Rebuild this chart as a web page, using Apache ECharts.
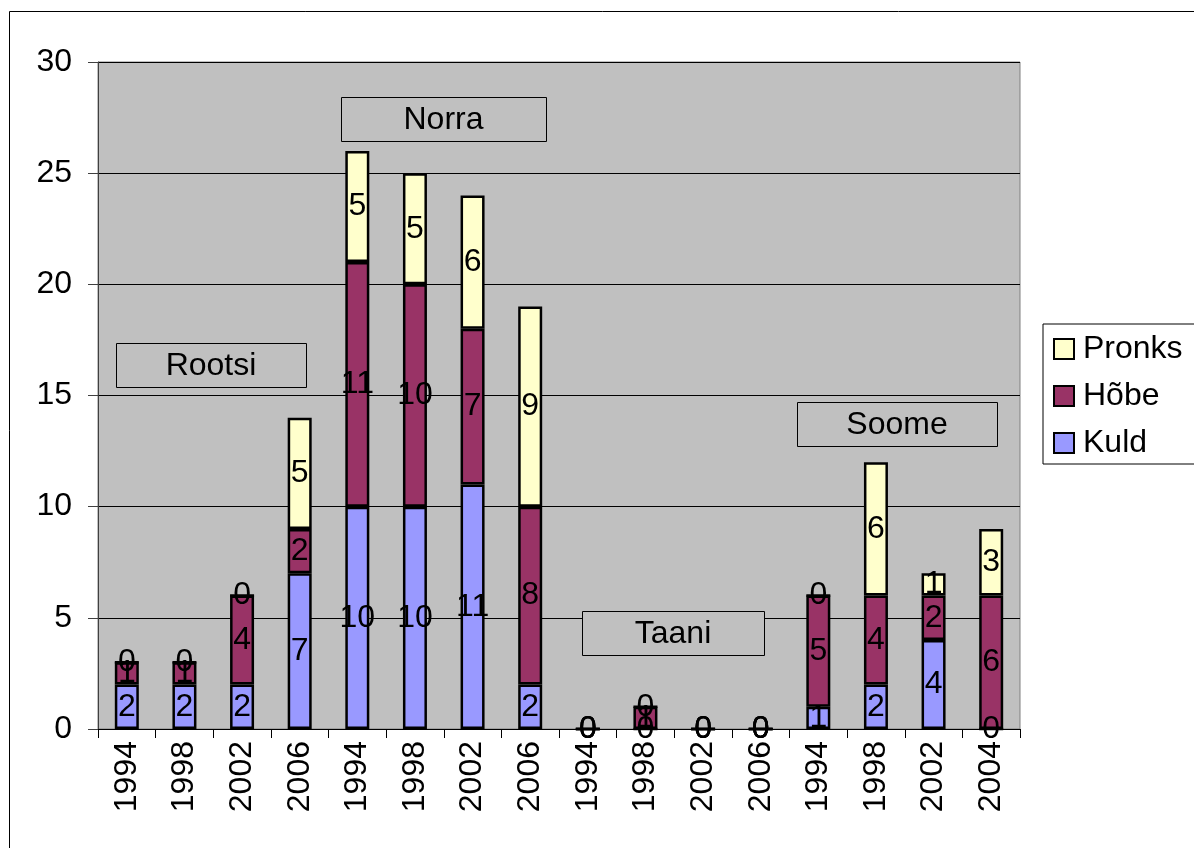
<!DOCTYPE html>
<html><head><meta charset="utf-8">
<script src="https://cdn.jsdelivr.net/npm/echarts@6/dist/echarts.min.js"></script>
<style>html,body{margin:0;padding:0;background:#fff}#c{width:1194px;height:848px}</style>
</head><body><div id="c"></div>
<script>
const years = ['1994','1998','2002','2006','1994','1998','2002','2006','1994','1998','2002','2006','1994','1998','2002','2004'];
const kuld   = [2,2,2,7, 10,10,11,2, 0,0,0,0, 1,2,4,0];
const hobe   = [1,1,4,2, 11,10,7,8, 0,1,0,0, 5,4,2,6];
const pronks = [0,0,0,5, 5,5,6,9, 0,0,0,0, 0,6,1,3];
const yTicks = [0,5,10,15,20,25,30];
const countries = ['Rootsi','Norra','Taani','Soome'];

const FONT = 'Liberation Sans, Arial, sans-serif';
const FS = 32;
const chart = echarts.init(document.getElementById('c'));
const lbl = {show:true, position:'inside', color:'#000', fontSize:FS, fontFamily:FONT};
function ser(name, data, color){
  return {name, type:'bar', stack:'a', data, barWidth:24,
    itemStyle:{color, borderColor:'#000', borderWidth:2.5},
    label:lbl, emphasis:{disabled:true}};
}
const boxes = [
  {t:countries[0], x:116, y:343, w:190, h:44},
  {t:countries[1], x:341, y:97, w:205, h:44},
  {t:countries[2], x:582, y:611, w:182, h:44},
  {t:countries[3], x:797, y:402, w:200, h:44}
];
const graphic = [
  {type:'rect', shape:{x:9.5,y:11.5,width:1300,height:1000}, style:{fill:'none', stroke:'#000', lineWidth:1}, z:0, silent:true}
];
boxes.forEach(b=>{
  graphic.push({type:'rect', shape:{x:b.x+0.5,y:b.y+0.5,width:b.w,height:b.h}, style:{fill:'#C0C0C0', stroke:'#000', lineWidth:1}, z:100});
  graphic.push({type:'text', x:b.x+b.w/2, y:b.y+b.h/2+1, style:{text:b.t, fill:'#000', font:FS+'px '+FONT, align:'center', verticalAlign:'middle'}, z:101});
});
chart.setOption({
  animation:false,
  textStyle:{fontFamily:FONT},
  grid:{left:98, top:62, right:174, bottom:119, show:true, backgroundColor:'#C0C0C0', borderColor:'#808080', borderWidth:1},
  legend:{orient:'vertical', left:1043, top:324, data:['Pronks','Hõbe','Kuld'],
    backgroundColor:'#fff', borderColor:'#000', borderWidth:1, padding:[9,40,5,10],
    itemWidth:20, itemHeight:20, itemGap:15, icon:'rect',
    textStyle:{fontSize:FS, lineHeight:32, color:'#000', fontFamily:FONT, padding:[0,0,0,4]}},
  xAxis:{type:'category', data:years,
    axisLine:{lineStyle:{color:'#000', width:1}},
    axisTick:{show:true, length:9, lineStyle:{color:'#000'}},
    axisLabel:{rotate:90, fontSize:FS, color:'#000', margin:12, fontFamily:FONT},
    splitLine:{show:false}},
  yAxis:{type:'value', min:yTicks[0], max:yTicks[yTicks.length-1], interval:5,
    axisLine:{show:true, lineStyle:{color:'#404040', width:1}},
    axisTick:{show:true, length:10, lineStyle:{color:'#404040'}},
    axisLabel:{fontSize:FS, color:'#000', margin:26, fontFamily:FONT},
    splitLine:{show:true, lineStyle:{color:'#000', width:1}}},
  series:[ser('Kuld', kuld, '#9999FF'), ser('Hõbe', hobe, '#993366'), ser('Pronks', pronks, '#FFFFCC')],
  graphic
});
</script></body></html>
